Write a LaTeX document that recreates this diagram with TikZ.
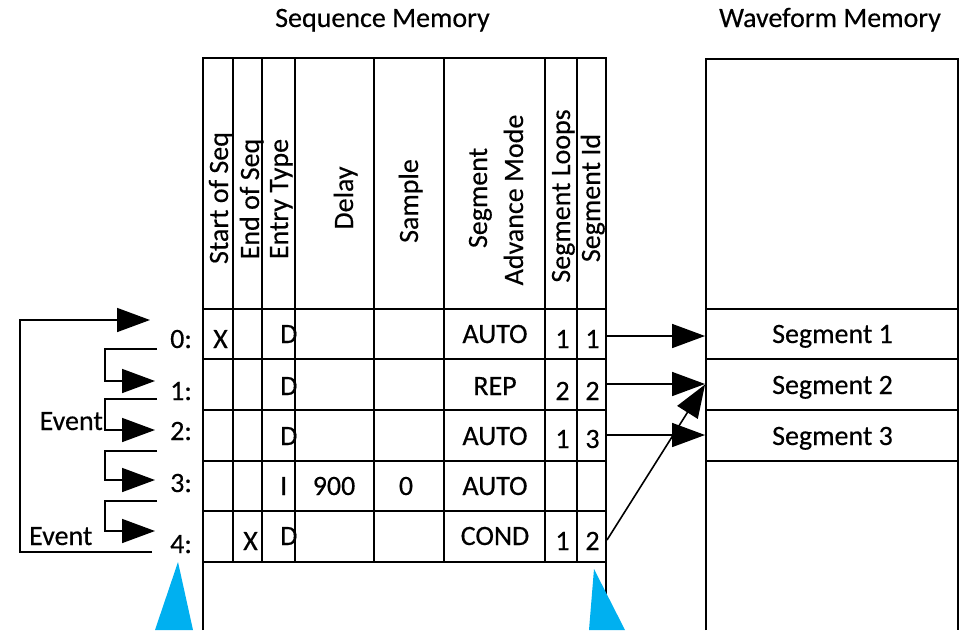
\documentclass[tikz,border=0pt]{standalone}
\usepackage{fontspec}
\setmainfont{Carlito}[UprightFeatures={FakeBold=0.35}]
\usetikzlibrary{arrows.meta}
\definecolor{markercyan}{HTML}{00B0F0}
\begin{document}
\begin{tikzpicture}[x=1pt,y=-1pt,
  every node/.style={font=\fontsize{28}{33}\selectfont, inner sep=0pt},
  grid/.style={line width=1.9pt},
  wire/.style={line width=1.6pt},
  conn/.style={line width=1.6pt, -{Triangle[length=33pt,width=24pt]}},
  hdr/.style={rotate=90, anchor=base},
  cell/.style={anchor=base},
  segbox/.style={draw, line width=1.9pt, minimum width=252pt, minimum height=50.5pt},
  marker/.style={fill=markercyan, draw=none}]
\useasboundingbox (0,0) rectangle (967,630);

% titles
\node[anchor=base west] (seqTitle) at (275,27) {Sequence Memory};
\node[anchor=base] (wavTitle) at (830,27) {Waveform Memory};

% sequence memory table
\draw[grid] (203,630) -- (203,58) -- (606,58) -- (606,630);
\foreach \cx in {233,262,295,374,444,545,577}
  \draw[grid] (\cx,58) -- (\cx,562);
\foreach \ry in {309,359,410,461,511,562}
  \draw[grid] (203,\ry) -- (606,\ry);

% column headers
\node[hdr] (hStart)  at (228,198) {Start of Seq};
\node[hdr] (hEnd)    at (259,199) {End of Seq};
\node[hdr] (hType)   at (288,199) {Entry Type};
\node[hdr] (hDelay)  at (353,198) {Delay};
\node[hdr] (hSample) at (418,201) {Sample};
\node[hdr] (hSeg)    at (487,198) {Segment};
\node[hdr] (hAdv)    at (523,200) {Advance Mode};
\node[hdr] (hLoops)  at (570,196) {Segment Loops};
\node[hdr] (hId)     at (600,198) {Segment Id};

% row indices
\node[anchor=base west] (r0) at (170,348) {0:};
\node[anchor=base west] (r1) at (170,400) {1:};
\node[anchor=base west] (r2) at (170,440) {2:};
\node[anchor=base west] (r3) at (170,492) {3:};
\node[anchor=base west] (r4) at (170,553) {4:};

% entries
\node[cell] (x0) at (220.5,348) {X};
\node[cell] (x4) at (250.5,550) {X};
\node[anchor=base west] (t0) at (280,343) {D};
\node[anchor=base west] (t1) at (280,395) {D};
\node[anchor=base west] (t2) at (280,445) {D};
\node[anchor=base west] (t3) at (280,495) {I};
\node[anchor=base west] (t4) at (280,545) {D};
\node[cell] (d3) at (334,495) {900};
\node[cell] (s3) at (406,495) {0};
\node[cell] (m0) at (495,343) {AUTO};
\node[cell] (m1) at (495,395) {REP};
\node[cell] (m2) at (495,445) {AUTO};
\node[cell] (m3) at (495,495) {AUTO};
\node[cell] (m4) at (495,545) {COND};
\node[cell] (lp0) at (562.5,348) {1};
\node[cell] (lp1) at (562.5,400) {2};
\node[cell] (lp2) at (562.5,448) {1};
\node[cell] (lp4) at (562.5,550) {1};
\node[cell] (id0) at (592.5,348) {1};
\node[cell] (id1) at (592.5,400) {2};
\node[cell] (id2) at (592.5,448) {3};
\node[cell] (id4) at (592.5,550) {2};

% waveform memory
\draw[grid] (706,630) -- (706,59) -- (958,59) -- (958,630);
\node[segbox] (seg1) at (832,334) {};
\node[segbox] (seg2) at (832,384.5) {};
\node[segbox] (seg3) at (832,435.5) {};
\node[cell] (lab1) at (832.5,343) {Segment 1};
\node[cell] (lab2) at (832.5,394) {Segment 2};
\node[cell] (lab3) at (832.5,445) {Segment 3};

% table to waveform links
\coordinate (o0) at (606,336);
\coordinate (o1) at (606,384);
\coordinate (o2) at (606,435);
\coordinate (o4) at (607,540);
\draw[conn] (o0) -- (o0 -| seg1.west);
\draw[conn] (o1) -- (o1 -| seg2.west);
\draw[conn] (o2) -- (o2 -| seg3.west);
\draw[conn] (o4) -- (seg2.west);

% sequencing between entries
\coordinate (from0) at (157,349);
\coordinate (to1)   at (155,381);
\coordinate (from1) at (157,399);
\coordinate (to2)   at (155,430);
\coordinate (from2) at (157,451);
\coordinate (to3)   at (155,480);
\coordinate (from3) at (157,501);
\coordinate (to4)   at (155,531);
\coordinate (from4) at (152,552);
\coordinate (to0)   at (150,320);
\draw[conn] (from0) -- ++(-52,0) |- (to1);
\draw[conn] (from1) -- ++(-52,0) |- (to2);
\draw[conn] (from2) -- ++(-52,0) |- (to3);
\draw[conn] (from3) -- ++(-52,0) |- (to4);
\draw[conn] (from4) -- ++(-132,0) |- (to0);
\node[anchor=base east] (ev1) at (103,430) {Event};
\node[anchor=base west] (ev2) at (29,545) {Event};

% pointer markers
\fill[marker] (178,562) -- (155,630) -- (193,630) -- cycle;
\fill[marker] (594,569) -- (589,630) -- (625,630) -- cycle;
\end{tikzpicture}
\end{document}
